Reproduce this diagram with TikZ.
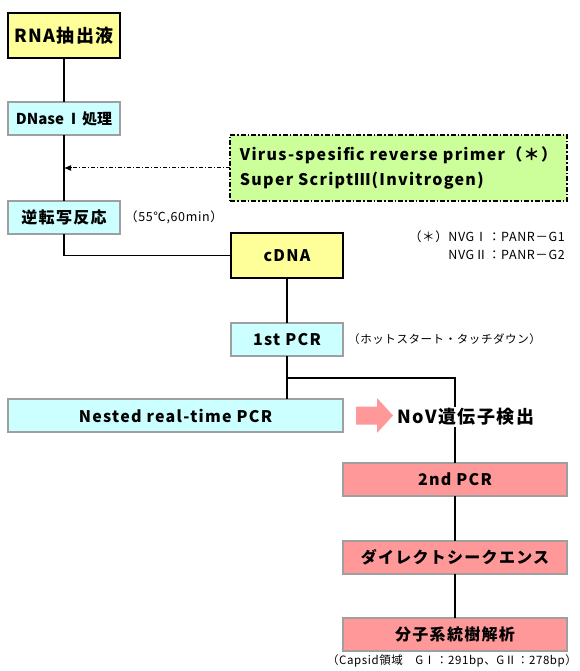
\documentclass[tikz,border=0pt]{standalone}
\usepackage{fontspec}
\setmainfont{Noto Sans CJK JP}
\newfontfamily\boxfont[LetterSpace=8]{Noto Sans CJK JP}
\newfontfamily\notefont[LetterSpace=5]{Noto Sans CJK JP}
\usepackage{tikz}
\usetikzlibrary{positioning, calc, arrows.meta}

\definecolor{boxyellow}{HTML}{FFFF99}
\definecolor{boxcyan}{HTML}{CCFFFF}
\definecolor{boxgreen}{HTML}{CCFF99}
\definecolor{boxpink}{HTML}{FF9999}

\begin{document}
\begin{tikzpicture}[
    x=1pt, y=1pt,
    every edge/.style={draw, line width=1.5pt},
    flow/.style={line width=1.5pt},
    cmpt/.style={draw=gray!75, line width=1.5pt, align=center, inner sep=0pt, outer sep=0pt, font=\boxfont\fontsize{16}{25}\selectfont\bfseries, minimum height=33pt},
    keybox/.style={cmpt, draw=black, fill=boxyellow, minimum width=112pt, minimum height=45pt},
    stepbox/.style={cmpt, fill=boxcyan, minimum width=112pt},
    pinkbox/.style={cmpt, fill=boxpink, minimum width=224pt},
    note/.style={font=\notefont\fontsize{12.5}{18}\selectfont, inner sep=2pt}]

    \useasboundingbox (0,0) rectangle (580,-671);

    \node at (64,-35.5) [keybox, font=\boxfont\fontsize{18}{20}\selectfont\bfseries] (rna) {RNA抽出液};
    \node [stepbox, below=44pt of rna, font=\fontsize{15}{18}\selectfont\bfseries] (dnase) {DNase\hspace{2pt}Ⅰ\hspace{1pt}処理};
    \node [stepbox, below=66pt of dnase] (rt) {逆転写反応};
    \node at (398.5,-168) [cmpt, draw=black, fill=boxgreen, line width=1.2pt, dash pattern=on 5pt off 2pt on 1.5pt off 2pt, minimum width=337pt, minimum height=66pt, align=left] (primer) {Virus-spesific reverse primer（＊）\\Super ScriptⅢ(Invitrogen)};
    \node at (287,-255.5) [keybox] (cdna) {cDNA};
    \node [stepbox, below=45pt of cdna] (pcr1) {1st PCR};
    \node at (175.5,-415.5) [stepbox, minimum width=335pt] (nested) {Nested real-time PCR};
    \node at (455,-479.5) [pinkbox] (pcr2) {2nd PCR};
    \node [pinkbox, below=45pt of pcr2] (seq) {ダイレクトシークエンス};
    \node [pinkbox, below=44pt of seq] (phylo) {分子系統樹解析};

    %%% Big pink arrow towards the result
    \coordinate (hint) at (356,-415.5);
    \fill [boxpink] (hint) ++(0,9) -- ++(21,0) -- ++(0,8.5) -- ++(16,-17.5) -- ++(-16,-17.5) -- ++(0,8.5) -- ++(-21,0) -- cycle;

    %%% Notes
    \node [note, right=3pt of rt] (rtcond) {（55℃,60min）};
    \node [note, align=right, anchor=north east] at ($(primer.south east)+(0,-28pt)$) (primerlist) {（＊）NVGⅠ：PANR－G1\\NVGⅡ：PANR－G2};
    \node [note, right=3pt of pcr1, font=\notefont\fontsize{11.5}{14}\selectfont] (pcr1cond) {（ホットスタート・タッチダウン）};
    \node [note, below=1pt of phylo, xshift=-3pt, font=\notefont\fontsize{11.5}{14}\selectfont] (region) {（Capsid領域　GⅠ：291bp、GⅡ：278bp）};

    %%% Flow
    \coordinate (split) at ($(pcr1.south)+(0,-22pt)$);
    \path (rna) edge (dnase);
    \path (dnase) edge (rt);
    \draw [flow] (rt.south) |- (cdna.west);
    \path (cdna) edge (pcr1);
    \draw [flow] (pcr1.south) -- (pcr1.south |- nested.north);
    \draw [flow] (split) -| (pcr2.north);
    \node at (466,-417) [fill=white, inner sep=1pt, font=\boxfont\fontsize{18}{20}\selectfont\bfseries] (nov) {NoV遺伝子検出};
    \path (pcr2) edge (seq);
    \path (seq) edge (phylo);
    \draw [-{Latex[length=7pt, width=6pt]}, line width=1pt, dash pattern=on 4pt off 2pt on 1pt off 2pt] (primer.west) -- (primer.west -| rt.north);

\end{tikzpicture}
\end{document}
